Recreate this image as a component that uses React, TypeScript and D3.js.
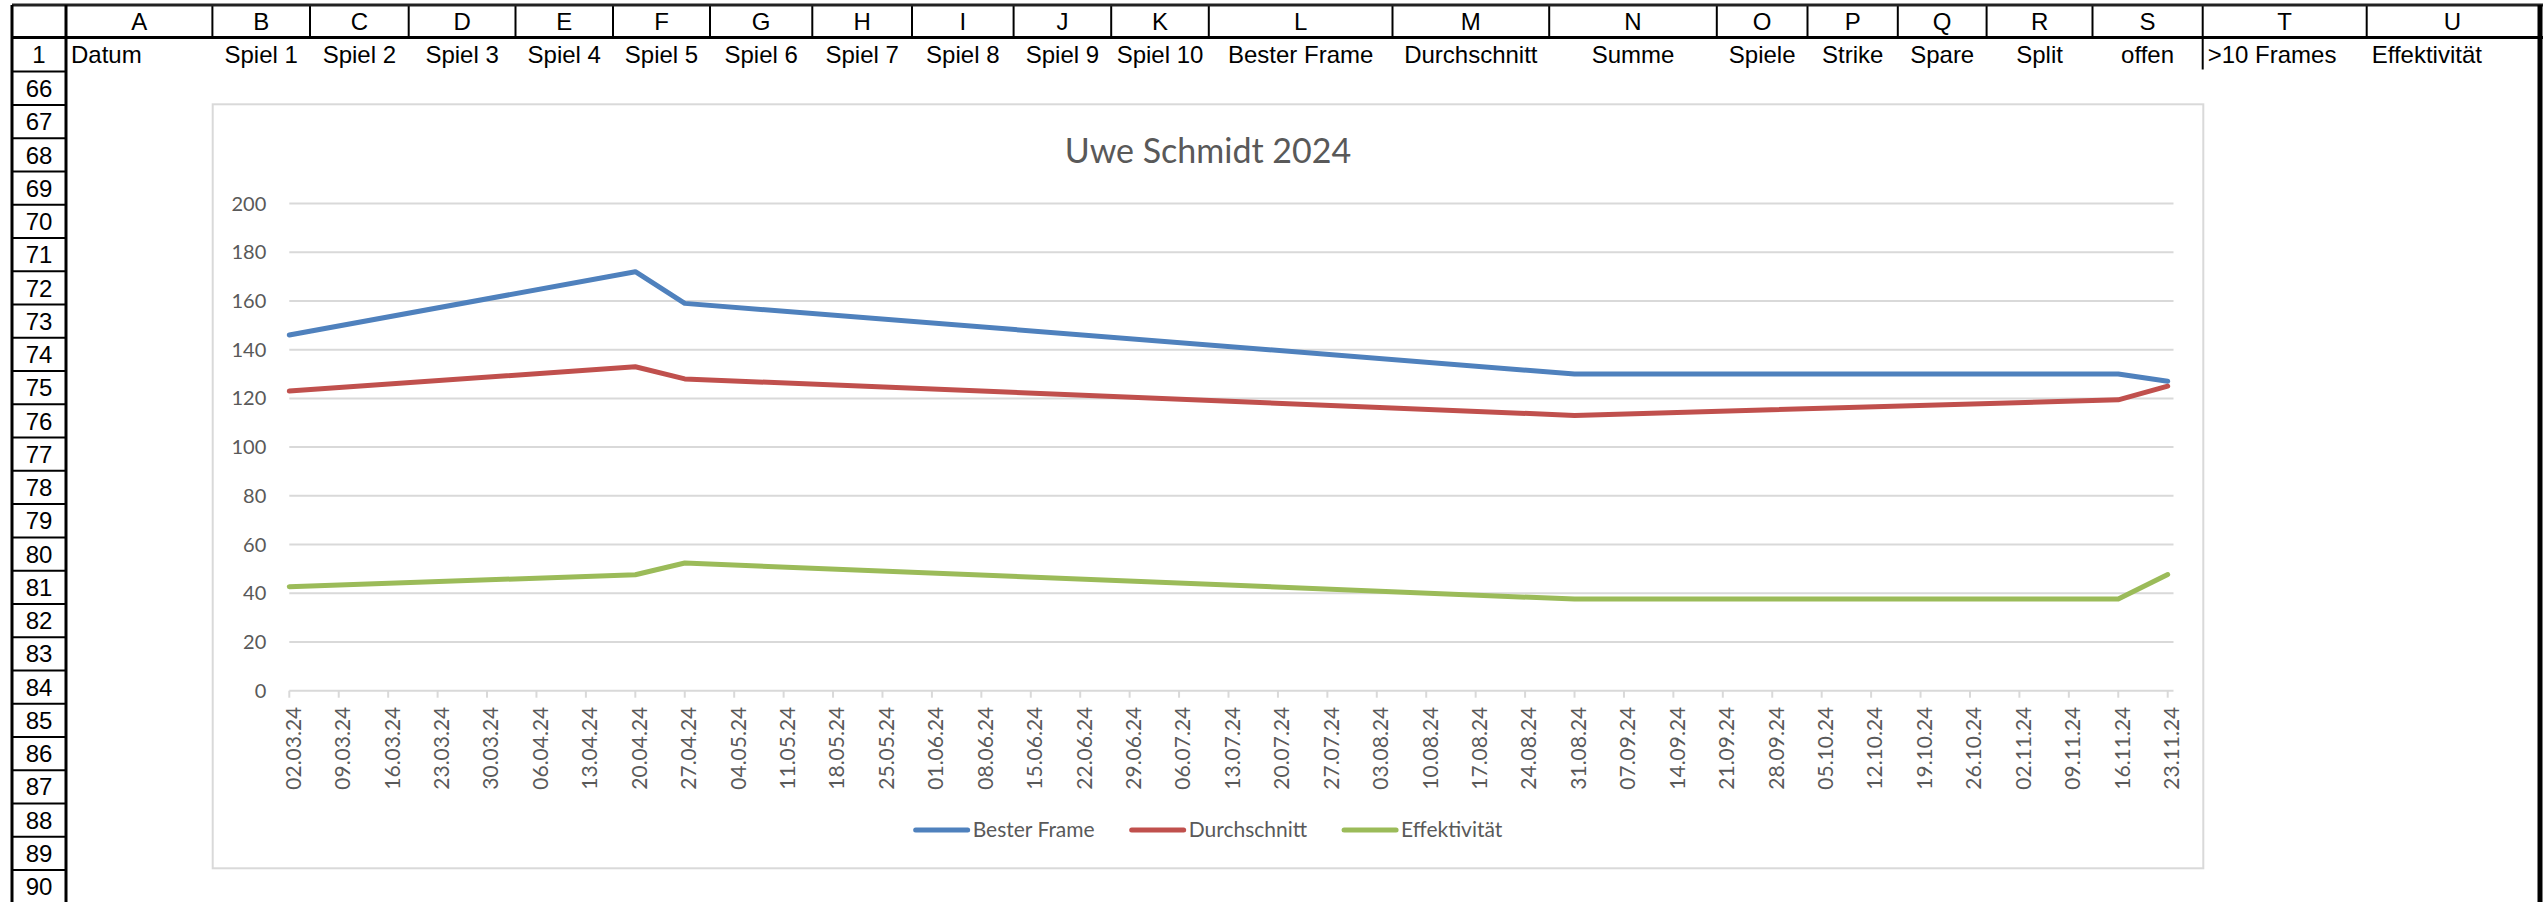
import React, { useEffect, useRef } from 'react';
import * as d3 from 'd3';

// sheet content
const columnLetters = ["A", "B", "C", "D", "E", "F", "G", "H", "I", "J", "K", "L", "M", "N", "O", "P", "Q", "R", "S", "T", "U"];
const headerLabels = ["Datum", "Spiel 1", "Spiel 2", "Spiel 3", "Spiel 4", "Spiel 5", "Spiel 6", "Spiel 7", "Spiel 8", "Spiel 9", "Spiel 10",
    "Bester Frame", "Durchschnitt", "Summe", "Spiele", "Strike", "Spare", "Split", "offen", ">10 Frames", "Effektivität"];
const leftAligned = ["Datum", ">10 Frames", "Effektivität"];
const rowNumbers = [1, 66, 67, 68, 69, 70, 71, 72, 73, 74, 75, 76, 77, 78, 79, 80, 81, 82, 83, 84, 85, 86, 87, 88, 89, 90];

// chart data
const chartTitle = "Uwe Schmidt 2024";
const dates = ["02.03.24", "20.04.24", "27.04.24", "31.08.24", "16.11.24", "23.11.24"];
const besterFrame = [146, 172, 159, 130, 130, 127];
const durchschnitt = [123, 133, 128, 113, 119.4, 125];
const effektivitaet = [42.7, 47.6, 52.4, 37.6, 37.6, 47.7];
const seriesNames = ["Bester Frame", "Durchschnitt", "Effektivität"];
const yTicks = [0, 20, 40, 60, 80, 100, 120, 140, 160, 180, 200];

// layout
const W = 2543;
const H = 902;
const colEdges = [66, 212.4, 310, 408.7, 515.5, 613, 710, 812.3, 912, 1013.6, 1111.2, 1208.8, 1392.5, 1549.2, 1716.8, 1807.5, 1897.8, 1986.6, 2092.5, 2202.7, 2366.7, 2538];
const rowH = 33.26;
const colors = ["#4f81bd", "#c0504d", "#9bbb59"];
const chartBox = { x: 212.7, y: 104.3, w: 1990.6, h: 764 };
const plot = { left: 289.3, right: 2167.7, gridRight: 2173.5, top: 203.5, bottom: 690.7 };

const parseDate = d3.utcParse("%d.%m.%y");
const fmtDate = d3.utcFormat("%d.%m.%y");

export default function App() {
    const svgRef = useRef<SVGSVGElement | null>(null);

    useEffect(() => {
        document.body.style.margin = "0";
        document.body.style.overflow = "hidden";

        const svg = d3.select(svgRef.current);
        svg.selectAll("*").remove();

        // ---------- spreadsheet frame ----------
        const sheet = svg.append("g").attr("font-family", "Liberation Sans, Arial, sans-serif").attr("font-size", 24);
        const headTop = 5, headBottom = 37.5, row1Bottom = 71.5, row66Bottom = 105;
        const rowTops = [headBottom, row1Bottom].concat(rowNumbers.slice(2).map((_, i) => row66Bottom + i * rowH));
        const rowBottoms = rowTops.slice(1).concat([row66Bottom + (rowNumbers.length - 2) * rowH]);

        // column letters
        columnLetters.forEach((c, i) => {
            sheet.append("text")
                .attr("x", (colEdges[i] + colEdges[i + 1]) / 2)
                .attr("y", (headTop + headBottom) / 2)
                .attr("dy", "0.36em")
                .attr("text-anchor", "middle")
                .text(c);
        });
        colEdges.slice(0, -1).forEach(x => {
            sheet.append("line").attr("x1", x).attr("x2", x).attr("y1", headTop).attr("y2", headBottom)
                .attr("stroke", "#000").attr("stroke-width", 2);
        });
        // line between S and T continues through row 1
        sheet.append("line").attr("x1", colEdges[19]).attr("x2", colEdges[19]).attr("y1", headBottom).attr("y2", row1Bottom - 2)
            .attr("stroke", "#000").attr("stroke-width", 2);

        // row 1 labels
        headerLabels.forEach((t, i) => {
            const left = leftAligned.includes(t);
            sheet.append("text")
                .attr("x", left ? colEdges[i] + 5 : (colEdges[i] + colEdges[i + 1]) / 2)
                .attr("y", (headBottom + row1Bottom) / 2)
                .attr("dy", "0.36em")
                .attr("text-anchor", left ? "start" : "middle")
                .text(t);
        });

        // row numbers
        rowNumbers.forEach((r, i) => {
            sheet.append("text")
                .attr("x", (12 + colEdges[0]) / 2)
                .attr("y", (rowTops[i] + rowBottoms[i]) / 2)
                .attr("dy", "0.36em")
                .attr("text-anchor", "middle")
                .text(r);
            sheet.append("line").attr("x1", 12).attr("x2", colEdges[0]).attr("y1", rowBottoms[i]).attr("y2", rowBottoms[i])
                .attr("stroke", "#000").attr("stroke-width", 2);
        });

        // outer lines
        sheet.append("line").attr("x1", 12).attr("x2", W).attr("y1", headTop).attr("y2", headTop).attr("stroke", "#222").attr("stroke-width", 3);
        sheet.append("line").attr("x1", 12).attr("x2", W).attr("y1", headBottom).attr("y2", headBottom).attr("stroke", "#000").attr("stroke-width", 3);
        sheet.append("line").attr("x1", 12).attr("x2", 12).attr("y1", headTop).attr("y2", H).attr("stroke", "#000").attr("stroke-width", 3);
        sheet.append("line").attr("x1", colEdges[0]).attr("x2", colEdges[0]).attr("y1", headTop).attr("y2", H).attr("stroke", "#000").attr("stroke-width", 3);
        sheet.append("line").attr("x1", W - 3).attr("x2", W - 3).attr("y1", headTop).attr("y2", H).attr("stroke", "#000").attr("stroke-width", 5);

        // ---------- chart ----------
        const chart = svg.append("g").attr("font-family", "Lato, 'Open Sans', sans-serif").attr("fill", "#595959");
        chart.append("rect")
            .attr("x", chartBox.x).attr("y", chartBox.y).attr("width", chartBox.w).attr("height", chartBox.h)
            .attr("fill", "#fff").attr("stroke", "#d9d9d9").attr("stroke-width", 2);

        chart.append("text")
            .attr("x", chartBox.x + chartBox.w / 2)
            .attr("y", 151)
            .attr("dy", "0.35em")
            .attr("text-anchor", "middle")
            .attr("font-size", 34)
            .text(chartTitle);

        const xDates = dates.map(d => parseDate(d) as Date);
        const xScale = d3.scaleUtc()
            .domain([xDates[0], xDates[xDates.length - 1]])
            .range([plot.left, plot.right]);
        const yScale = d3.scaleLinear().domain([0, 200]).range([plot.bottom, plot.top]);

        // gridlines + y labels
        yTicks.forEach(v => {
            if (v > 0) {
                chart.append("line")
                    .attr("x1", plot.left).attr("x2", plot.gridRight)
                    .attr("y1", yScale(v)).attr("y2", yScale(v))
                    .attr("stroke", "#d9d9d9").attr("stroke-width", 2);
            }
            chart.append("text")
                .attr("x", plot.left - 23)
                .attr("y", yScale(v))
                .attr("dy", "0.35em")
                .attr("text-anchor", "end")
                .attr("font-size", 20)
                .text(v);
        });

        // x axis
        const weekTicks = d3.utcSaturday.range(xDates[0], d3.utcDay.offset(xDates[xDates.length - 1], 1));
        chart.append("line")
            .attr("x1", plot.left).attr("x2", plot.gridRight)
            .attr("y1", yScale(0)).attr("y2", yScale(0))
            .attr("stroke", "#d9d9d9").attr("stroke-width", 2);
        weekTicks.forEach(d => {
            chart.append("line")
                .attr("x1", xScale(d)).attr("x2", xScale(d))
                .attr("y1", yScale(0)).attr("y2", yScale(0) + 7)
                .attr("stroke", "#d9d9d9").attr("stroke-width", 2);
            chart.append("text")
                .attr("transform", `translate(${xScale(d) + 4},${yScale(0) + 16}) rotate(-90)`)
                .attr("dy", "0.35em")
                .attr("text-anchor", "end")
                .attr("font-size", 21)
                .text(fmtDate(d));
        });

        // lines
        const seriesValues = [besterFrame, durchschnitt, effektivitaet];
        const line = d3.line<number>()
            .x((_, i) => xScale(xDates[i]))
            .y(v => yScale(v));
        seriesValues.forEach((vals, k) => {
            chart.append("path")
                .attr("d", line(vals))
                .attr("fill", "none")
                .attr("stroke", colors[k])
                .attr("stroke-width", 5)
                .attr("stroke-linecap", "round")
                .attr("stroke-linejoin", "round");
        });

        // legend
        const legend = chart.append("g");
        let cx = 0;
        seriesNames.forEach((name, k) => {
            const item = legend.append("g").attr("transform", `translate(${cx},0)`);
            item.append("line").attr("x1", 2).attr("x2", 54).attr("y1", 0).attr("y2", 0)
                .attr("stroke", colors[k]).attr("stroke-width", 5).attr("stroke-linecap", "round");
            const t = item.append("text").attr("x", 59).attr("dy", "0.35em").attr("font-size", 21).text(name);
            const tw = (t.node() as SVGTextElement).getComputedTextLength();
            cx += 59 + tw + 35;
        });
        const legendW = cx - 35;
        legend.attr("transform", `translate(${chartBox.x + chartBox.w / 2 - legendW / 2},830)`);
    });

    return (
        <svg ref={svgRef} width={W} height={H}
            style={{ position: "absolute", left: 0, top: 0, background: "#fff" }}
            viewBox={`0 0 ${W} ${H}`}>
        </svg>
    );
}
